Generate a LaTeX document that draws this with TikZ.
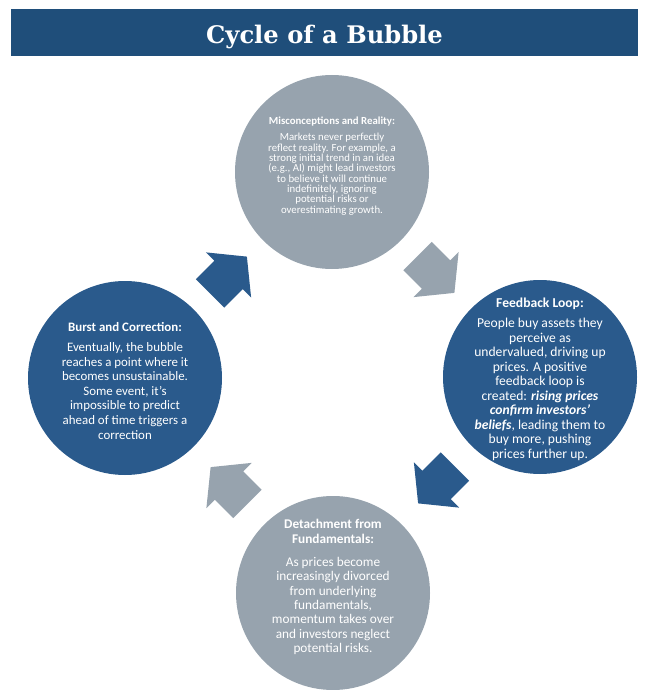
\documentclass[tikz,border=0pt]{standalone}
\usepackage{fontspec}
\setmainfont{Carlito}
\newfontfamily\titlefont{DejaVu Serif}
\usetikzlibrary{calc}
\definecolor{barblue}{HTML}{1F4E7A}
\definecolor{cblue}{HTML}{2A5A8C}
\definecolor{cgray}{HTML}{97A3AE}
\tikzset{
  pics/cyclearrow/.style={code={
    \fill[pic actions] (-26,-20) -- (0,-20) -- (0,-32) -- (26,0) -- (0,32) -- (0,20) -- (-26,20) -- cycle;}},
  bluecircle/.style={circle, fill=cblue, minimum size=194pt, inner sep=0pt},
  graycircle/.style={circle, fill=cgray, minimum size=194pt, inner sep=0pt},
  circtext/.style={text=white, align=center, inner sep=0pt},
}
\begin{document}
\begin{tikzpicture}[x=1pt,y=-1pt]
\useasboundingbox (0,0) rectangle (648,690);
% title bar
\node[fill=barblue, minimum width=627pt, minimum height=47pt, inner sep=0pt] (bar) at (324.5,32.5) {};
\node[anchor=base, text=white, inner sep=0pt, font=\titlefont\bfseries\fontsize{24.2}{28}\selectfont] (title) at (324.5,44) {Cycle of a Bubble};
% circles
\node[graycircle] (top) at (332,172) {};
\node[bluecircle] (right) at (540,377) {};
\node[graycircle] (bottom) at (333,593) {};
\node[bluecircle] (left) at (125,378) {};
% arrows
\pic[fill=cblue, rotate=45] at ($(left)!0.5!(top)$) {cyclearrow};
\pic[fill=cgray, rotate=-45] at ($(top)!0.5!(right)$) {cyclearrow};
\pic[fill=cblue, rotate=-135] at ($(right)!0.5!(bottom)$) {cyclearrow};
\pic[fill=cgray, rotate=135] at ($(bottom)!0.5!(left)$) {cyclearrow};
% texts
\node[circtext, font=\fontsize{10.8}{10.3}\selectfont] (toptext) at (332,166) {%
\textbf{Misconceptions and Reality:}\\[6pt]
Markets never perfectly\\
reflect reality. For example, a\\
strong initial trend in an idea\\
(e.g., AI) might lead investors\\
to believe it will continue\\
indefinitely, ignoring\\
potential risks or\\
overestimating growth.};
\node[circtext, font=\fontsize{13.6}{14.5}\selectfont] (righttext) at (540,379) {%
\textbf{Feedback Loop:}\\[6pt]
People buy assets they\\
perceive as\\
undervalued, driving up\\
prices. A positive\\
feedback loop is\\
created: \textbf{\textit{rising prices}}\\
\textbf{\textit{confirm investors’}}\\
\textbf{\textit{beliefs}}, leading them to\\
buy more, pushing\\
prices further up.};
\node[circtext, font=\fontsize{12.9}{14.6}\selectfont] (lefttext) at (125,381) {%
\textbf{Burst and Correction:}\\[5pt]
Eventually, the bubble\\
reaches a point where it\\
becomes unsustainable.\\
Some event, it’s\\
impossible to predict\\
ahead of time triggers a\\
correction};
\node[circtext, font=\fontsize{13.3}{14.3}\selectfont] (bottomtext) at (333,587) {%
\textbf{Detachment from}\\
\textbf{Fundamentals:}\\[9pt]
As prices become\\
increasingly divorced\\
from underlying\\
fundamentals,\\
momentum takes over\\
and investors neglect\\
potential risks.};
\end{tikzpicture}
\end{document}
